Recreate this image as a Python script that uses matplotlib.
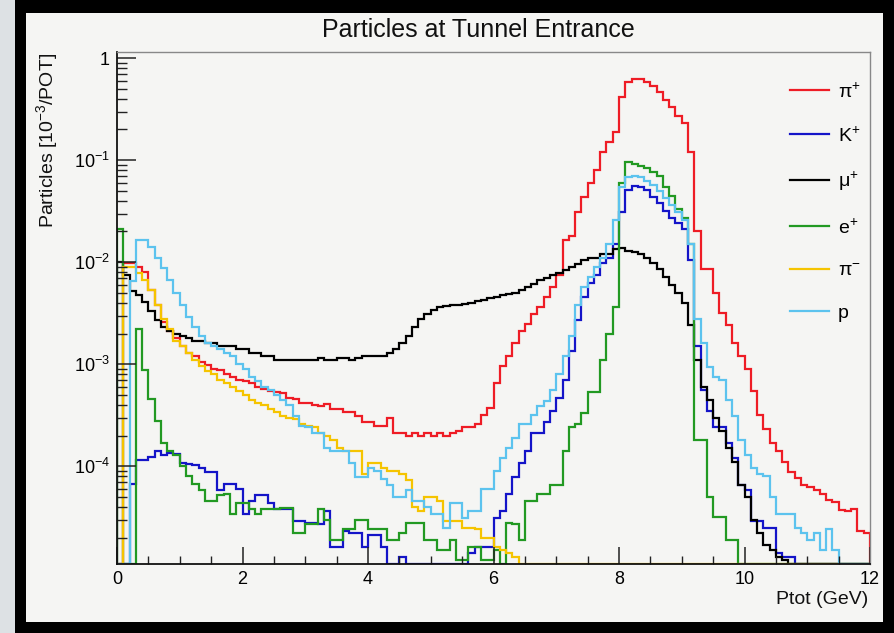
import numpy as np
import matplotlib
matplotlib.use("Agg")
import matplotlib.pyplot as plt
from matplotlib.patches import Rectangle
from matplotlib.ticker import FixedLocator, LogLocator, NullFormatter

# histogram binning (Ptot in GeV)
bin_lo, bin_hi, n_bins = 0.0, 12.0, 120

# bin contents [1e-3 / POT]
pi_plus = [0, 0.0098, 0.0098, 0.009, 0.008, 0.0053, 0.0038, 0.0026, 0.0021, 0.0018,
           0.0015, 0.0013, 0.0012, 0.00105, 0.00098, 0.0009, 0.00087, 0.0008, 0.00075, 0.0007,
           0.00068, 0.00065, 0.0006, 0.00057, 0.00055, 0.00054, 0.00052, 0.00047, 0.00046, 0.00042,
           0.00042, 0.0004, 0.00039, 0.00041, 0.00036, 0.00036, 0.00034, 0.00034, 0.00031, 0.00027,
           0.00027, 0.00025, 0.00025, 0.0003, 0.00021, 0.00021, 0.0002, 0.00021, 0.0002, 0.00021,
           0.0002, 0.00021, 0.0002, 0.00021, 0.00022, 0.00024, 0.00024, 0.00026, 0.00032, 0.00037,
           0.00065, 0.00095, 0.0012, 0.0016, 0.0021, 0.0025, 0.0031, 0.0036, 0.0046, 0.0057,
           0.0075, 0.0166, 0.018, 0.031, 0.044, 0.06, 0.081, 0.12, 0.15, 0.19,
           0.42, 0.58, 0.62, 0.62, 0.58, 0.53, 0.47, 0.39, 0.33, 0.27,
           0.23, 0.12, 0.02, 0.0085, 0.0085, 0.005, 0.0032, 0.0024, 0.0016, 0.0012,
           0.0009, 0.00055, 0.00032, 0.00023, 0.00017, 0.00014, 0.00011, 8.7e-5, 7.7e-5, 6.6e-5,
           6.2e-5, 5.8e-5, 5.4e-5, 4.7e-5, 4.5e-5, 3.7e-5, 3.6e-5, 3.8e-5, 2.3e-5, 2.2e-5]

k_plus = [0, 0, 6.7e-5, 1.15e-4, 1.15e-4, 1.23e-4, 1.4e-4, 1.3e-4, 1.35e-4, 1.32e-4,
          1.07e-4, 1.05e-4, 1.02e-4, 9.5e-5, 8.7e-5, 8.7e-5, 5.8e-5, 6.7e-5, 6.7e-5, 6e-5,
          3.4e-5, 4.6e-5, 5.2e-5, 5.2e-5, 4.4e-5, 3.8e-5, 3.8e-5, 3.8e-5, 2.9e-5, 2.9e-5,
          2.8e-5, 2.8e-5, 2.7e-5, 3.6e-5, 1.6e-5, 1.6e-5, 2.3e-5, 2.2e-5, 2.2e-5, 1.6e-5,
          2.1e-5, 2.1e-5, 1.6e-5, 0, 0, 1.3e-5, 0, 0, 0, 0,
          0, 0, 0, 0, 0, 0, 1.4e-5, 1.6e-5, 1.6e-5, 1.6e-5,
          3.1e-5, 3.6e-5, 5.4e-5, 7.8e-5, 1.07e-4, 1.4e-4, 2.1e-4, 2.1e-4, 2.7e-4, 3.5e-4,
          4.7e-4, 7e-4, 1.35e-3, 2.7e-3, 4.6e-3, 6.3e-3, 7.5e-3, 9.8e-3, 0.011, 0.015,
          0.031, 0.051, 0.056, 0.054, 0.051, 0.044, 0.038, 0.032, 0.027, 0.024,
          0.021, 0.0106, 0.0015, 5.6e-4, 3.5e-4, 2.4e-4, 2.4e-4, 1.7e-4, 1.2e-4, 6.6e-5,
          5.8e-5, 2.9e-5, 2.9e-5, 2.5e-5, 2.5e-5, 1.4e-5, 1.3e-5, 1.3e-5, 0, 0,
          0, 0, 0, 0, 0, 0, 0, 0, 0, 0]

mu_plus = [0.01, 0.0075, 0.0052, 0.0048, 0.0041, 0.0033, 0.0027, 0.0023, 0.0021, 0.002,
           0.0019, 0.0018, 0.0017, 0.0017, 0.0016, 0.0016, 0.0015, 0.0015, 0.0015, 0.0014,
           0.0014, 0.0013, 0.0013, 0.0012, 0.0012, 0.0011, 0.0011, 0.0011, 0.0011, 0.0011,
           0.0011, 0.0011, 0.00115, 0.0011, 0.0011, 0.00115, 0.00115, 0.0011, 0.00115, 0.0012,
           0.0012, 0.0012, 0.0012, 0.0013, 0.0014, 0.0016, 0.0019, 0.0023, 0.0028, 0.0031,
           0.0034, 0.0036, 0.0037, 0.0038, 0.0038, 0.0039, 0.004, 0.0042, 0.0043, 0.0045,
           0.0046, 0.0048, 0.0049, 0.005, 0.0053, 0.0057, 0.0061, 0.0067, 0.007, 0.0075,
           0.0078, 0.0084, 0.009, 0.0095, 0.0105, 0.011, 0.011, 0.012, 0.012, 0.0135,
           0.0138, 0.013, 0.0125, 0.012, 0.011, 0.0098, 0.0085, 0.0072, 0.006, 0.005,
           0.004, 0.0024, 0.0011, 6e-4, 4.5e-4, 3e-4, 2.2e-4, 1.5e-4, 1.1e-4, 6.5e-5,
           5e-5, 3e-5, 2.2e-5, 1.7e-5, 1.5e-5, 1.3e-5, 1.2e-5, 0, 0, 0,
           0, 0, 0, 0, 0, 0, 0, 0, 0, 0]

e_plus = [0.021, 0, 0, 0.0022, 0.00087, 0.00046, 0.00028, 0.00017, 0.00014, 0.00013,
          0.0001, 8.1e-5, 6.7e-5, 5.8e-5, 4.6e-5, 4.6e-5, 5.2e-5, 5.4e-5, 3.4e-5, 4.4e-5,
          4.4e-5, 3.8e-5, 3.4e-5, 3.8e-5, 3.8e-5, 3.8e-5, 3.9e-5, 3.9e-5, 2.2e-5, 2.2e-5,
          2.7e-5, 2.7e-5, 3.8e-5, 3e-5, 1.9e-5, 1.9e-5, 2.4e-5, 2.4e-5, 3e-5, 3e-5,
          2.4e-5, 2.4e-5, 2.4e-5, 1.9e-5, 1.9e-5, 2.2e-5, 2.8e-5, 2.8e-5, 2.8e-5, 1.9e-5,
          1.9e-5, 1.5e-5, 1.5e-5, 1.9e-5, 1.2e-5, 1.2e-5, 1.6e-5, 1.6e-5, 1.2e-5, 1.2e-5,
          1.5e-5, 0, 2.8e-5, 2.7e-5, 1.9e-5, 4.6e-5, 4.6e-5, 5.4e-5, 5.4e-5, 6.6e-5,
          6.6e-5, 1.4e-4, 2.4e-4, 2.6e-4, 3.3e-4, 5.3e-4, 5.3e-4, 1.1e-3, 2e-3, 3.6e-3,
          0.06, 0.097, 0.092, 0.088, 0.083, 0.076, 0.07, 0.055, 0.045, 0.033,
          0.027, 0.015, 1.8e-4, 1.8e-4, 5e-5, 3.2e-5, 3.2e-5, 1.9e-5, 1.9e-5, 0,
          0, 0, 0, 0, 0, 0, 0, 0, 0, 0,
          0, 0, 0, 0, 0, 0, 0, 0, 0, 0]

pi_minus = [0, 0.0089, 0.0089, 0.0078, 0.0067, 0.0053, 0.0038, 0.0028, 0.0022, 0.0017,
            0.0015, 0.0013, 0.0011, 0.00095, 0.00085, 0.0008, 0.0007, 0.00065, 0.0006, 0.00055,
            0.0005, 0.00045, 0.00042, 0.0004, 0.00036, 0.00034, 0.00031, 0.0003, 0.00029, 0.00026,
            0.00025, 0.00024, 0.00021, 0.0002, 0.00018, 0.00015, 0.00014, 0.00014, 0.00014, 8.4e-5,
            1.07e-4, 1.07e-4, 9.7e-5, 9e-5, 9e-5, 8.4e-5, 7.3e-5, 4e-5, 3.6e-5, 5e-5,
            5e-5, 4.6e-5, 2.9e-5, 2.9e-5, 2.9e-5, 2.5e-5, 2.5e-5, 2.4e-5, 2e-5, 2e-5,
            1.6e-5, 1.5e-5, 1.4e-5, 1.3e-5, 0, 0, 0, 0, 0, 0,
            0, 0, 0, 0, 0, 0, 0, 0, 0, 0,
            0, 0, 0, 0, 0, 0, 0, 0, 0, 0,
            0, 0, 0, 0, 0, 0, 0, 0, 0, 0,
            0, 0, 0, 0, 0, 0, 0, 0, 0, 0,
            0, 0, 0, 0, 0, 0, 0, 0, 0, 0]

protons = [0, 0, 0.0065, 0.0166, 0.0166, 0.014, 0.011, 0.0088, 0.0067, 0.005,
           0.0038, 0.0029, 0.0023, 0.0019, 0.0016, 0.0015, 0.0014, 0.0013, 0.0012, 0.001,
           0.0009, 0.00075, 0.00068, 0.0006, 0.00056, 0.0005, 0.00045, 0.0004, 0.00031, 0.00025,
           0.00024, 0.00021, 0.00021, 0.00015, 0.00014, 0.00014, 0.00014, 0.000107, 7.8e-5, 7.8e-5,
           9.7e-5, 9e-5, 7.5e-5, 6.6e-5, 5e-5, 5e-5, 5.8e-5, 4.6e-5, 4.6e-5, 4e-5,
           3.4e-5, 3.4e-5, 2.5e-5, 4.4e-5, 4.4e-5, 3.1e-5, 3.6e-5, 3.6e-5, 6e-5, 6e-5,
           9e-5, 1.2e-4, 1.5e-4, 1.9e-4, 2.6e-4, 2.6e-4, 3.2e-4, 3.9e-4, 4.4e-4, 5.6e-4,
           8e-4, 1.2e-3, 1.9e-3, 3.8e-3, 5.7e-3, 7.2e-3, 9e-3, 0.011, 0.015, 0.026,
           0.055, 0.068, 0.07, 0.068, 0.063, 0.057, 0.05, 0.043, 0.036, 0.031,
           0.026, 0.015, 0.0028, 0.0016, 9.4e-4, 7.5e-4, 7e-4, 4.5e-4, 3.1e-4, 1.8e-4,
           1.3e-4, 9.7e-5, 8.4e-5, 8e-5, 5e-5, 3.4e-5, 3.4e-5, 3.4e-5, 2.5e-5, 2.2e-5,
           1.9e-5, 2.2e-5, 1.5e-5, 2.4e-5, 1.5e-5, 0, 0, 0, 0, 0]

labels = [r'$\mathregular{\pi^{+}}$', r'$\mathregular{K^{+}}$', r'$\mathregular{\mu^{+}}$',
          r'$\mathregular{e^{+}}$', r'$\mathregular{\pi^{-}}$', 'p']
colors = ['#ee1c25', '#1414c8', '#000000', '#229922', '#f5c400', '#5cc3ee']

x_ticks = [0, 2, 4, 6, 8, 10, 12]
y_ticks = [1e-4, 1e-3, 1e-2, 1e-1, 1]
y_tick_labels = [r'$\mathregular{10^{-4}}$', r'$\mathregular{10^{-3}}$', r'$\mathregular{10^{-2}}$',
                 r'$\mathregular{10^{-1}}$', '1']
y_min, y_max = 1.1e-5, 1.15

plt.rcParams['font.family'] = ['Liberation Sans', 'DejaVu Sans']
plt.rcParams['mathtext.fontset'] = 'custom'
plt.rcParams['mathtext.rm'] = 'Liberation Sans'
plt.rcParams['mathtext.it'] = 'Liberation Sans:italic'

W, H = 894, 633


def fx(px):
    return px / W


def fy(py):
    return 1 - py / H


def main():
    fig = plt.figure(figsize=(W / 100, H / 100), dpi=100, facecolor='#dde1e4')

    # black picture frame with the off-white canvas inside (kept behind the axes)
    fig.patches.append(Rectangle((fx(15), 0), 1 - fx(15), 1, transform=fig.transFigure,
                                 facecolor='black', edgecolor='none', zorder=-10))
    fig.patches.append(Rectangle((fx(26), fy(622)), fx(883) - fx(26), fy(13) - fy(622),
                                 transform=fig.transFigure, facecolor='#f5f5f3',
                                 edgecolor='none', zorder=-9))

    ax = fig.add_axes([fx(117), fy(564), fx(870) - fx(117), fy(52) - fy(564)])
    ax.set_facecolor('none')
    ax.set_zorder(5)

    edges = np.linspace(bin_lo, bin_hi, n_bins + 1)
    series = [pi_plus, k_plus, mu_plus, e_plus, pi_minus, protons]
    for vals, lab, col in zip(series, labels, colors):
        # empty bins sit on the lower edge like in ROOT
        v = np.clip(np.array(vals, dtype=float), y_min, None)
        ax.stairs(v, edges, baseline=y_min, color=col, lw=1.6, label=lab)

    ax.set_yscale('log')
    ax.set_xlim(bin_lo, bin_hi)
    ax.set_ylim(y_min, y_max)

    ax.xaxis.set_major_locator(FixedLocator(x_ticks))
    ax.xaxis.set_minor_locator(FixedLocator(np.arange(0, 12.01, 0.5)))
    ax.set_xticklabels([str(t) for t in x_ticks])
    ax.yaxis.set_major_locator(FixedLocator(y_ticks))
    ax.set_yticklabels(y_tick_labels)
    ax.yaxis.set_minor_locator(LogLocator(base=10, subs=np.arange(2, 10)))
    ax.yaxis.set_minor_formatter(NullFormatter())

    ax.tick_params(axis='both', which='both', direction='in', top=False, right=False,
                   labelsize=13, color='#222222', pad=5)
    ax.tick_params(axis='x', which='major', length=12, width=1.1)
    ax.tick_params(axis='x', which='minor', length=6, width=1)
    ax.tick_params(axis='y', which='major', length=14, width=1.1)
    ax.tick_params(axis='y', which='minor', length=7, width=1)

    for s in ['left', 'bottom']:
        ax.spines[s].set_color('#111111')
        ax.spines[s].set_linewidth(1.3)
    for s in ['top', 'right']:
        ax.spines[s].set_color('#888888')
        ax.spines[s].set_linewidth(1.0)

    ax.legend(loc='upper left', bbox_to_anchor=(fx(790), fy(82)), bbox_transform=fig.transFigure,
              frameon=False, fontsize=14, handlelength=2.0, handletextpad=0.45,
              labelspacing=1.27, borderpad=0, borderaxespad=0)

    fig.text(fx(478), fy(30), 'Particles at Tunnel Entrance', ha='center', va='center',
             fontsize=18, color='#111111')
    fig.text(fx(47), fy(53), r'Particles [10$\mathregular{^{-3}}$/POT]', rotation=90,
             ha='center', va='top', fontsize=14, color='#111111')
    fig.text(fx(868), fy(600), 'Ptot (GeV)', ha='right', va='center', fontsize=14,
             color='#111111')

    fig.savefig('out.png', dpi=100, facecolor=fig.get_facecolor())


if __name__ == "__main__":
    main()
